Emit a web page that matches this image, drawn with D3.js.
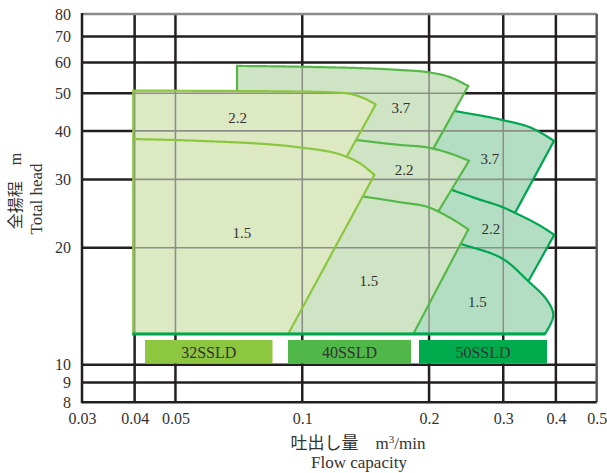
<!DOCTYPE html>
<html><head><meta charset="utf-8">
<script src="https://cdn.jsdelivr.net/npm/d3@7"></script>
<style>
html,body{margin:0;padding:0;background:#fff;}
svg{display:block;}
text{font-family:"Liberation Serif","DejaVu Serif","Noto Sans CJK JP",serif;fill:#333;}
</style></head>
<body>
<svg id="chart" width="607" height="473"></svg>
<script>
// ---- axis ticks ----
const xTicks = [0.03, 0.04, 0.05, 0.1, 0.2, 0.3, 0.4, 0.5];
const xTickLabels = ["0.03", "0.04", "0.05", "0.1", "0.2", "0.3", "0.4", "0.5"];
const yTicks = [8, 9, 10, 20, 30, 40, 50, 60, 70, 80];
const yTickLabels = ["8", "9", "10", "20", "30", "40", "50", "60", "70", "80"];
const models = ["32SSLD", "40SSLD", "50SSLD"];
const baseHead = 12;

// ---- 32SSLD (flow m3/min, head m) ----
const c32_22 = [[0.0397, 50.8], [0.1, 50.5], [0.1249, 50.1], [0.1371, 49.0], [0.1494, 46.8]];
const c32_15 = [[0.0397, 38.1], [0.0572, 37.7], [0.1, 36.2], [0.1275, 34.3], [0.1371, 33.0], [0.1483, 30.8]];
const junction32 = [0.1275];
const base32 = [0.0397, 0.0926];

// ---- 40SSLD ----
const c40_37 = [[0.07, 58.8], [0.1, 58.5], [0.1706, 57.4], [0.2, 56.6], [0.2242, 55.0], [0.2478, 52.2]];
const c40_22 = [[0.1164, 38.6], [0.1341, 37.9], [0.1706, 36.8], [0.2, 36.2], [0.2242, 35.0], [0.2488, 33.5]];
const c40_15 = [[0.1164, 27.8], [0.1396, 27.1], [0.1706, 26.2], [0.2, 25.4], [0.2242, 23.9], [0.2478, 22.3]];
const junction40 = [0.2047, 0.2103];
const base40 = [0.07, 0.1835];

// ---- 50SSLD ----
const c50_37 = [[0.2123, 45.8], [0.2305, 45.0], [0.2975, 42.7], [0.3536, 40.5], [0.3959, 37.7]];
const c50_22 = [[0.2123, 28.9], [0.2263, 28.2], [0.2642, 26.6], [0.2975, 25.5], [0.3199, 24.6], [0.3668, 22.8], [0.3965, 21.6]];
const c50_15 = [[0.2182, 21.2], [0.2369, 20.5], [0.2975, 18.8], [0.3441, 16.4], [0.3804, 14.7], [0.3944, 13.4], [0.3769, 12.0]];
const junction50 = [0.3199, 0.3441];
const base50 = [0.11, 0.3769];

// ---- kW labels ----
const kwText = ["2.2", "1.5", "3.7", "2.2", "1.5", "3.7", "2.2", "1.5"];
const kwFlow = [0.0702, 0.0719, 0.1715, 0.1744, 0.1440, 0.2790, 0.2802, 0.2606];
const kwHead = [43.3, 21.8, 45.8, 31.7, 16.4, 33.9, 22.4, 14.5];

// ---- layout ----
const svg = d3.select("#chart");
const L = 82, R = 596.7, T = 14, B = 402.3;
const x = d3.scaleLog().domain([0.03, 0.5]).range([L, R]);
const y = d3.scaleLog().domain([8, 80]).range([B, T]);

const gridX = xTicks.slice(1, -1);
const gridY = yTicks.slice(1, -1);

function drawGrid(g, color, width) {
  g.selectAll(".gv").data(gridX).join("line")
    .attr("x1", d => x(d)).attr("x2", d => x(d)).attr("y1", T).attr("y2", B)
    .attr("stroke", color).attr("stroke-width", width);
  g.selectAll(".gh").data(gridY).join("line")
    .attr("x1", L).attr("x2", R).attr("y1", d => y(d)).attr("y2", d => y(d))
    .attr("stroke", color).attr("stroke-width", width);
}

// black grid
const gBlack = svg.append("g");
drawGrid(gBlack, "#231f20", 2.5);
// frame
svg.append("line").attr("x1", L).attr("x2", R).attr("y1", T).attr("y2", T).attr("stroke", "#8a8a8a").attr("stroke-width", 2.5);
svg.append("line").attr("x1", R).attr("x2", R).attr("y1", T).attr("y2", B).attr("stroke", "#5a5a5a").attr("stroke-width", 2.5);
svg.append("line").attr("x1", L).attr("x2", L).attr("y1", T - 1).attr("y2", B + 1).attr("stroke", "#231f20").attr("stroke-width", 2.5);
svg.append("line").attr("x1", L).attr("x2", R).attr("y1", B).attr("y2", B).attr("stroke", "#231f20").attr("stroke-width", 2.5);

// ---- dense curve sampling (through d3 curves on the scales) ----
function dense(curve, factory) {
  const gen = d3.line().x(d => x(d[0])).y(d => y(d[1])).curve(factory);
  const tmp = svg.append("path").attr("d", gen(curve));
  const node = tmp.node();
  const len = node.getTotalLength();
  const n = 160, pts = [];
  for (let i = 0; i <= n; i++) {
    const p = node.getPointAtLength(len * i / n);
    pts.push([p.x, p.y]);
  }
  tmp.remove();
  return pts;
}
function splitAt(pts, xv) {
  const px = x(xv);
  for (let i = 0; i < pts.length - 1; i++) {
    const a = pts[i], b = pts[i + 1];
    if ((a[0] - px) * (b[0] - px) <= 0 && a[0] !== b[0]) {
      const t = (px - a[0]) / (b[0] - a[0]);
      const p = [px, a[1] + t * (b[1] - a[1])];
      return { left: pts.slice(0, i + 1).concat([p]), right: [p].concat(pts.slice(i + 1)) };
    }
  }
  return { left: pts, right: [pts[pts.length - 1]] };
}
const lin = d3.line();
function segL(pts) { return "L" + lin(pts).slice(1); }
function P(p) { return x(p[0]) + "," + y(p[1]); }

const mono = d3.curveMonotoneX, cr = d3.curveCatmullRom.alpha(0.5);
const d32_22 = dense(c32_22, mono), d32_15 = dense(c32_15, mono);
const d40_37 = dense(c40_37, mono), d40_22 = dense(c40_22, mono), d40_15 = dense(c40_15, mono);
const d50_37 = dense(c50_37, mono), d50_22 = dense(c50_22, mono), d50_15 = dense(c50_15, cr);

const s32 = splitAt(d32_15, junction32[0]);
const s40a = splitAt(d40_22, junction40[0]);
const s40b = splitAt(d40_15, junction40[1]);
const s50a = splitAt(d50_22, junction50[0]);
const s50b = splitAt(d50_15, junction50[1]);

const groups = [
  { name: models[2], fill: "#b3dec4", stroke: "#00a651",
    outline: "M" + P([base50[0], baseHead]) + segL(d50_37) + segL(s50a.right) + segL(s50b.right) + "L" + P([base50[1], baseHead]) + "Z",
    inner: [s50a.left, s50b.left] },
  { name: models[1], fill: "#cfe4c4", stroke: "#55b848",
    outline: "M" + P([base40[0], baseHead]) + segL(d40_37) + segL(s40a.right) + segL(s40b.right) + "L" + P([base40[1], baseHead]) + "Z",
    inner: [s40a.left, s40b.left] },
  { name: models[0], fill: "#dde9c3", stroke: "#8cc63f",
    outline: "M" + P([base32[0], baseHead]) + segL(d32_22) + segL(s32.right) + "L" + P([base32[1], baseHead]) + "Z",
    inner: [s32.left] }
];

const defs = svg.append("defs");
groups.forEach((gr, i) => {
  const id = "clip" + i;
  defs.append("clipPath").attr("id", id).append("path").attr("d", gr.outline);
  const g = svg.append("g");
  g.append("path").attr("d", gr.outline).attr("fill", gr.fill).attr("stroke", "none");
  const gg = g.append("g").attr("clip-path", "url(#" + id + ")");
  drawGrid(gg, "#8b8f86", 1.6);
  g.append("path").attr("d", gr.outline).attr("fill", "none").attr("stroke", gr.stroke)
    .attr("stroke-width", 2.2).attr("stroke-linejoin", "miter");
  gr.inner.forEach(c => {
    g.append("path").attr("d", lin(c)).attr("fill", "none").attr("stroke", gr.stroke).attr("stroke-width", 2.2);
  });
});

// baseline
svg.append("line").attr("x1", x(base32[0]) - 1).attr("x2", x(base50[1]))
  .attr("y1", y(baseHead)).attr("y2", y(baseHead))
  .attr("stroke", "#00a651").attr("stroke-width", 3);

// kW labels
svg.selectAll(".kw").data(kwText).join("text")
  .attr("x", (d, i) => x(kwFlow[i])).attr("y", (d, i) => y(kwHead[i]))
  .attr("text-anchor", "middle").attr("dominant-baseline", "central")
  .attr("font-size", 15).text(d => d);

// legend boxes
const legColors = ["#8dc63f", "#50b848", "#00ab4e"];
const legX = [145, 288, 419];
const legW = [127.5, 123, 128];
const lg = svg.selectAll(".leg").data(models).join("g");
lg.append("rect").attr("x", (d, i) => legX[i]).attr("y", 340).attr("width", (d, i) => legW[i]).attr("height", 23.5)
  .attr("fill", (d, i) => legColors[i]);
lg.append("text").attr("x", (d, i) => legX[i] + legW[i] / 2).attr("y", 352)
  .attr("text-anchor", "middle").attr("dominant-baseline", "central").attr("font-size", 16)
  .text(d => d);

// axes labels
const ax = svg.append("g").attr("transform", `translate(0,${B})`)
  .call(d3.axisBottom(x).tickValues(xTicks).tickSize(0).tickPadding(10).tickFormat((d, i) => xTickLabels[i]));
const ay = svg.append("g").attr("transform", `translate(${L},0)`)
  .call(d3.axisLeft(y).tickValues(yTicks).tickSize(0).tickPadding(11).tickFormat((d, i) => yTickLabels[i]));
[ax, ay].forEach(a => {
  a.select(".domain").remove();
  a.selectAll("text").attr("font-size", 16).attr("fill", "#333")
    .attr("font-family", '"Liberation Serif","DejaVu Serif",serif');
});

// titles
const xt = svg.append("text").attr("x", 358).attr("y", 449).attr("text-anchor", "middle").attr("font-size", 17);
xt.append("tspan").text("吐出し量　m");
xt.append("tspan").attr("dy", -6).attr("font-size", 11).text("3");
xt.append("tspan").attr("dy", 6).text("/min");
svg.append("text").attr("x", 359).attr("y", 468).attr("text-anchor", "middle").attr("font-size", 17).text("Flow capacity");

svg.append("text").attr("transform", "translate(21,191) rotate(-90)").attr("text-anchor", "middle")
  .attr("font-size", 16).text("全揚程　m");
svg.append("text").attr("transform", "translate(42,199) rotate(-90)").attr("text-anchor", "middle")
  .attr("font-size", 17).text("Total head");
</script>
</body></html>
